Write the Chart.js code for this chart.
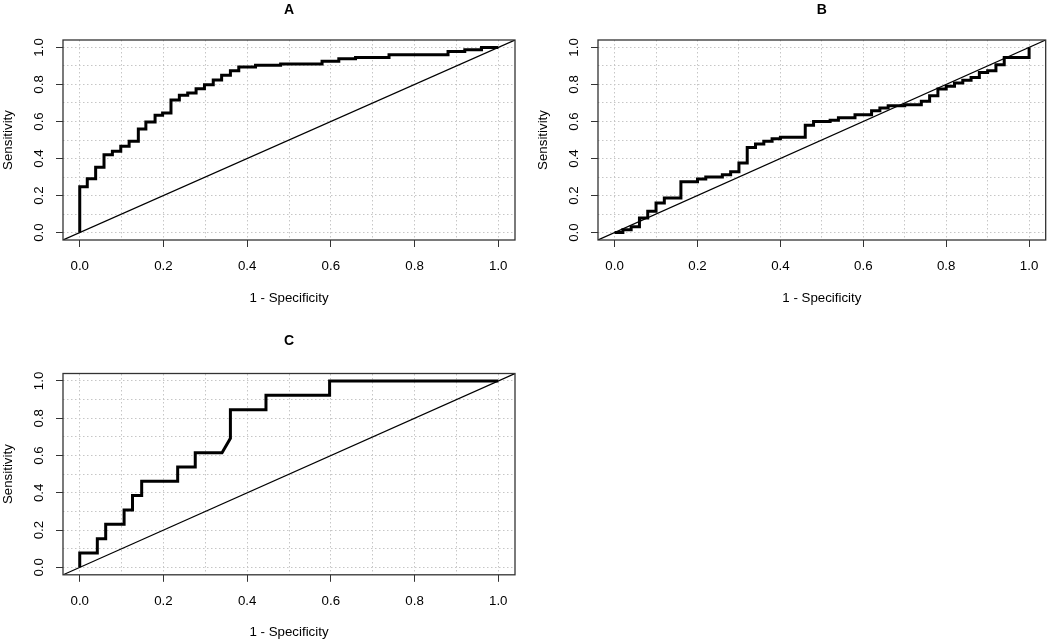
<!DOCTYPE html>
<html>
<head>
<meta charset="utf-8">
<script src="https://cdn.jsdelivr.net/npm/chart.js@4.4.1/dist/chart.umd.min.js"></script>
<style>
  html, body { margin: 0; padding: 0; background: #fff; overflow: hidden; }
  body { width: 1050px; height: 642px; position: relative; }
  canvas { position: absolute; }
</style>
</head>
<body>
<canvas id="rocA"></canvas>
<canvas id="rocB"></canvas>
<canvas id="rocC"></canvas>
<script>
// ---- data ----
const tickVals = [0, 0.2, 0.4, 0.6, 0.8, 1.0];
const gridVals = [0, 0.1, 0.2, 0.3, 0.4, 0.5, 0.6, 0.7, 0.8, 0.9, 1.0];
const axisMin = -0.04, axisMax = 1.04;
const chanceLine = [-0.04, 1.04];

// panel A
const fprA = [0, 0, 0.018, 0.018, 0.038, 0.038, 0.058, 0.058, 0.078, 0.078, 0.098, 0.098, 0.118, 0.118,
  0.14, 0.14, 0.158, 0.158, 0.18, 0.18, 0.198, 0.198, 0.218, 0.218, 0.238, 0.238, 0.258, 0.258,
  0.278, 0.278, 0.298, 0.298, 0.319, 0.319, 0.339, 0.339, 0.36, 0.36, 0.38, 0.38, 0.42, 0.42,
  0.48, 0.48, 0.579, 0.579, 0.619, 0.619, 0.659, 0.659, 0.739, 0.739, 0.88, 0.88, 0.92, 0.92, 0.96, 0.96, 1];
const tprA = [0, 0.247, 0.247, 0.291, 0.291, 0.353, 0.353, 0.421, 0.421, 0.439, 0.439, 0.466, 0.466, 0.493,
  0.493, 0.56, 0.56, 0.597, 0.597, 0.633, 0.633, 0.646, 0.646, 0.716, 0.716, 0.741, 0.741, 0.754,
  0.754, 0.777, 0.777, 0.799, 0.799, 0.824, 0.824, 0.849, 0.849, 0.874, 0.874, 0.894, 0.894, 0.903,
  0.903, 0.91, 0.91, 0.925, 0.925, 0.939, 0.939, 0.946, 0.946, 0.96, 0.96, 0.978, 0.978, 0.988, 0.988, 1, 1];

// panel B
const fprB = [0, 0.02, 0.02, 0.04, 0.04, 0.06, 0.06, 0.08, 0.08, 0.10, 0.10, 0.12, 0.12, 0.16, 0.16,
  0.20, 0.20, 0.22, 0.22, 0.26, 0.26, 0.28, 0.28, 0.30, 0.30, 0.32, 0.32, 0.34, 0.34, 0.36, 0.36,
  0.38, 0.38, 0.40, 0.40, 0.46, 0.46, 0.48, 0.48, 0.52, 0.52, 0.54, 0.54, 0.58, 0.58, 0.62, 0.62,
  0.64, 0.64, 0.66, 0.66, 0.70, 0.70, 0.74, 0.74, 0.76, 0.76, 0.78, 0.78, 0.80, 0.80, 0.82, 0.82,
  0.84, 0.84, 0.86, 0.86, 0.88, 0.88, 0.90, 0.90, 0.92, 0.92, 0.94, 0.94, 1.0, 1.0];
const tprB = [0, 0, 0.016, 0.016, 0.031, 0.031, 0.079, 0.079, 0.115, 0.115, 0.16, 0.16, 0.187, 0.187, 0.274,
  0.274, 0.289, 0.289, 0.30, 0.30, 0.313, 0.313, 0.328, 0.328, 0.376, 0.376, 0.46, 0.46, 0.479, 0.479,
  0.493, 0.493, 0.507, 0.507, 0.515, 0.515, 0.579, 0.579, 0.60, 0.60, 0.607, 0.607, 0.62, 0.62,
  0.637, 0.637, 0.658, 0.658, 0.673, 0.673, 0.685, 0.685, 0.69, 0.69, 0.709, 0.709, 0.739, 0.739,
  0.776, 0.776, 0.79, 0.79, 0.808, 0.808, 0.822, 0.822, 0.838, 0.838, 0.865, 0.865, 0.874, 0.874,
  0.907, 0.907, 0.946, 0.946, 1.0];

// panel C
const fprC = [0, 0, 0.042, 0.042, 0.062, 0.062, 0.106, 0.106, 0.126, 0.126, 0.148, 0.148, 0.234, 0.234,
  0.276, 0.276, 0.34, 0.36, 0.36, 0.445, 0.445, 0.597, 0.597, 1];
const tprC = [0, 0.077, 0.077, 0.154, 0.154, 0.231, 0.231, 0.308, 0.308, 0.385, 0.385, 0.462, 0.462, 0.538,
  0.538, 0.615, 0.615, 0.692, 0.846, 0.846, 0.923, 0.923, 1, 1];

Chart.defaults.font.family = '"Liberation Sans", Arial, Helvetica, sans-serif';
Chart.defaults.color = '#000';

// plot frame (R style box round the plot region)
const boxPlugin = {
  id: 'box',
  afterDatasetsDraw(chart) {
    const { ctx, chartArea: a } = chart;
    ctx.save();
    ctx.strokeStyle = '#333';
    ctx.lineWidth = 1.3;
    ctx.strokeRect(a.left, a.top, a.right - a.left, a.bottom - a.top);
    ctx.restore();
  }
};

const setTicks = vals => scale => { scale.ticks = vals.map(v => ({ value: v })); };

function makeRoc(id, title, fpr, tpr, lay) {
  const canvas = document.getElementById(id);
  canvas.width = lay.w;
  canvas.height = lay.h;
  canvas.style.left = lay.x + 'px';
  canvas.style.top = lay.y + 'px';

  const gridStyle = { drawTicks: false, color: '#c6c6c6', lineWidth: 1 };
  const gridBorder = { display: false, dash: [1.5, 2.5] };

  return new Chart(canvas, {
    type: 'scatter',
    data: {
      datasets: [
        { data: fpr.map((x, i) => ({ x, y: tpr[i] })), showLine: true, borderColor: '#000',
          borderWidth: 3, pointRadius: 0, fill: false },
        { data: chanceLine.map(v => ({ x: v, y: v })), showLine: true, borderColor: '#000',
          borderWidth: 1.2, pointRadius: 0, fill: false }
      ]
    },
    options: {
      responsive: false,
      animation: false,
      layout: { padding: 0 },
      plugins: { legend: { display: false }, tooltip: { enabled: false } },
      scales: {
        x: {
          type: 'linear', position: 'bottom', min: axisMin, max: axisMax,
          afterBuildTicks: setTicks(tickVals),
          afterFit: s => { s.height = lay.bottomH; },
          grid: { drawOnChartArea: false, drawTicks: true, tickLength: 7, color: '#333', lineWidth: 1 },
          border: { display: false },
          ticks: { callback: v => v.toFixed(1), font: { size: 13.3 }, color: '#000', padding: 11.5,
                   autoSkip: false, maxRotation: 0 },
          title: { display: true, text: '1 - Specificity', font: { size: 13.3 }, color: '#000',
                   padding: { top: 0, bottom: 0 } }
        },
        xg: {
          type: 'linear', position: 'top', min: axisMin, max: axisMax,
          afterBuildTicks: setTicks(gridVals),
          afterFit: s => { s.height = lay.topH; },
          grid: gridStyle, border: gridBorder,
          ticks: { display: false },
          title: { display: true, text: title, font: { size: 14, weight: 'bold' }, color: '#000',
                   padding: { top: lay.titleTop, bottom: 0 } }
        },
        y: {
          type: 'linear', position: 'left', min: axisMin, max: axisMax,
          afterBuildTicks: setTicks(tickVals),
          afterFit: s => { s.width = 63; },
          grid: { drawOnChartArea: false, drawTicks: true, tickLength: 7, color: '#333', lineWidth: 1 },
          border: { display: false },
          ticks: { callback: v => v.toFixed(1), font: { size: 13.3 }, color: '#000', padding: 7,
                   minRotation: 90, maxRotation: 90, crossAlign: 'center', autoSkip: false },
          title: { display: true, text: 'Sensitivity', font: { size: 13.3 }, color: '#000',
                   padding: { top: 0, bottom: 0 } }
        },
        yg: {
          type: 'linear', position: 'right', min: axisMin, max: axisMax,
          afterBuildTicks: setTicks(gridVals),
          afterFit: s => { s.width = lay.rightW; },
          grid: gridStyle, border: gridBorder,
          ticks: { display: false }
        }
      }
    },
    plugins: [boxPlugin]
  });
}

makeRoc('rocA', 'A', fprA, tprA, { x: 0, y: 0, w: 525, h: 306, topH: 40, bottomH: 66, rightW: 10, titleTop: 1.6 });
makeRoc('rocB', 'B', fprB, tprB, { x: 535, y: 0, w: 515, h: 306, topH: 40, bottomH: 66, rightW: 1, titleTop: 1.6 });
makeRoc('rocC', 'C', fprC, tprC, { x: 0, y: 306, w: 525, h: 334, topH: 67.5, bottomH: 65.2, rightW: 10, titleTop: 26.3 });
</script>
</body>
</html>
